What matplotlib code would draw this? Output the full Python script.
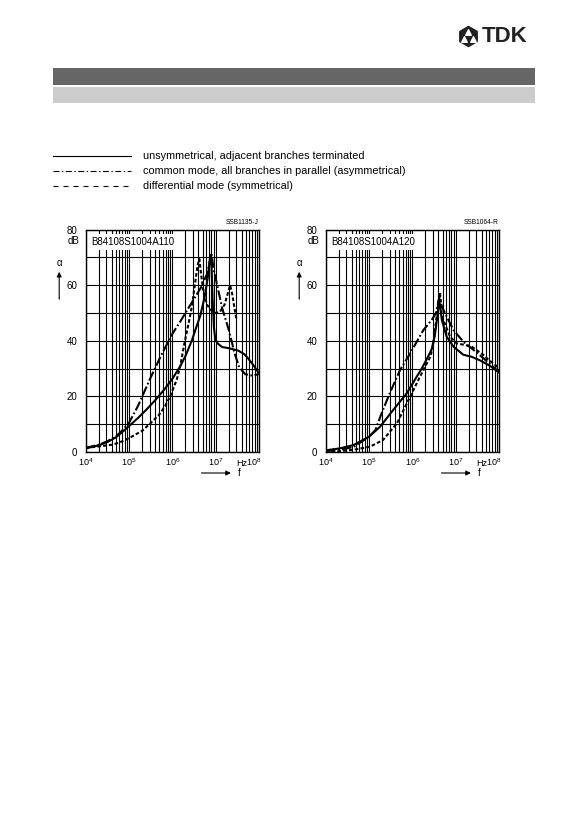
import matplotlib
matplotlib.use("Agg")
import matplotlib.pyplot as plt
import matplotlib.transforms as mtransforms
from matplotlib.patches import Rectangle
from matplotlib.ticker import LogLocator, NullFormatter

plt.rcParams["font.family"] = ["Liberation Sans", "DejaVu Sans"]
plt.rcParams["lines.scale_dashes"] = False

# ---- data (f in Hz, attenuation in dB) ----
X_TICKS = [1e4, 1e5, 1e6, 1e7, 1e8]
X_TICK_LABELS = [r"$\mathregular{10^{4}}$", r"$\mathregular{10^{5}}$",
                 r"$\mathregular{10^{6}}$", r"$\mathregular{10^{7}}$",
                 r"$\mathregular{10^{8}}$"]
Y_TICKS = [0, 20, 40, 60, 80]
Y_MINOR = [10, 30, 50, 70]

LEGEND_LABELS = ["unsymmetrical, adjacent branches terminated",
                 "common mode, all branches in parallel (asymmetrical)",
                 "differential mode (symmetrical)"]

# left chart: B84108S1004A110
L_UNSYM_F = [1e4, 2e4, 3.2e4, 5e4, 7e4, 1e5, 1.6e5, 2.5e5, 4e5, 6.3e5, 1e6,
             1.5e6, 2e6, 2.8e6, 3.5e6, 4.4e6, 5.6e6, 6.6e6, 7.4e6, 7.8e6,
             8.1e6, 8.5e6, 9.1e6, 9.8e6, 1.12e7, 1.4e7, 2.1e7, 3.3e7, 4.5e7,
             5.2e7, 7.4e7, 1e8]
L_UNSYM_DB = [1.3, 2.4, 3.6, 5.3, 7.2, 9.3, 12.2, 15.2, 18.6, 22.2, 26.3,
              30.7, 34.5, 40, 44.5, 49, 56, 63, 70, 71,
              65, 55, 45, 40.5, 39, 37.8, 37.3, 36.5, 35.3,
              34.3, 31.3, 28.3]

L_COMMON_F = [1e4, 2e4, 3.2e4, 5e4, 7e4, 1e5, 1.6e5, 3.2e5, 5.6e5, 1e6,
              1.6e6, 3e6, 4.5e6, 6.3e6, 7.2e6, 8e6, 8.9e6, 1.12e7, 1.4e7,
              2e7, 2.8e7, 3.5e7, 4.8e7, 7e7, 1e8]
L_COMMON_DB = [1.5, 2.6, 3.9, 5.6, 7.8, 10.5, 16.5, 27, 35, 42.5,
               47.5, 54.5, 59, 64, 68, 71.5, 66, 59, 52,
               44, 35, 30.5, 28, 27.5, 28]

L_DIFF_F = [1e4, 2e4, 4e4, 6e4, 1e5, 2e5, 3.2e5, 5e5, 6.8e5, 8.9e5, 1.26e6,
            1.5e6, 1.95e6, 2.35e6, 2.8e6, 3.3e6, 3.8e6, 4.2e6, 4.6e6, 5.2e6,
            6.3e6, 7.9e6, 1e7, 1.26e7, 1.6e7, 1.9e7, 2.15e7, 2.4e7, 2.7e7,
            3e7]
L_DIFF_DB = [1.5, 2.0, 2.6, 3.4, 5.0, 7.6, 10.5, 13.5, 16.5, 20, 26,
             30.5, 40, 46, 52, 60, 67, 69.5, 64, 58,
             53, 51, 50, 50.5, 53, 57, 60, 57, 52,
             48]

# right chart: B84108S1004A120
R_UNSYM_F = [1e4, 2.1e4, 4.4e4, 1e5, 1.8e5, 3.6e5, 7.4e5, 1.26e6, 1.6e6,
             2.1e6, 2.8e6, 3.3e6, 3.8e6, 4.15e6, 4.8e6, 6.2e6, 8.9e6,
             1.5e7, 2.3e7, 3.6e7, 6.2e7, 1e8]
R_UNSYM_DB = [0.6, 1.3, 2.5, 5.5, 9.1, 15.1, 21.1, 27.1, 29.7,
              33.1, 37, 42, 49, 55, 47.5, 41.5, 37.9,
              35, 34.3, 33, 31, 28.6]

R_COMMON_F = [1e4, 2.1e4, 4.4e4, 1e5, 1.4e5, 1.95e5, 3e5, 5.2e5, 8.9e5,
              1.8e6, 2.8e6, 3.5e6, 4.25e6, 4.8e6, 6.2e6, 8.9e6, 1.5e7,
              2.6e7, 4.4e7, 8.9e7, 1e8]
R_COMMON_DB = [0.3, 0.8, 1.8, 5.5, 7.9, 13.9, 21.1, 29.5, 35.5,
               43.9, 47.5, 50, 56, 52.3, 48.7, 43.9, 39.7,
               36.7, 33.7, 29.5, 29]

R_DIFF_F = [1e4, 2.1e4, 4.4e4, 1.05e5, 2.1e5, 4.4e5, 8.9e5, 1.5e6, 2.6e6,
            3e6, 3.55e6, 4e6, 4.35e6, 4.8e6, 5.2e6, 7.4e6, 1.05e7, 1.65e7,
            2.35e7, 4.4e7, 5.8e7, 7.4e7, 1e8]
R_DIFF_DB = [0, 0.3, 0.8, 1.9, 4.3, 10.3, 19.9, 27.1, 34.3,
             38, 47.5, 54, 57.5, 49, 47.5, 41.5, 39.1, 38.5,
             37.9, 34.9, 33.1, 31.9, 30.1]

SOLID = dict(color="black", lw=1.5, ls="-")
DASHDOT = dict(color="black", lw=1.5, dashes=(7, 1.8, 1.2, 1.8))
DASHED = dict(color="black", lw=1.5, dashes=(2.6, 1.6))

W, H = 583, 826
fig = plt.figure(figsize=(W / 100, H / 100), dpi=100)

# page overlay in pixel units for the header / legend / axis decorations
page = fig.add_axes([0, 0, 1, 1])
page.set_xlim(0, W)
page.set_ylim(H, 0)
page.axis("off")

page.add_patch(Rectangle((52.7, 68), 482.3, 17, color="#666666", lw=0))
page.add_patch(Rectangle((52.7, 86.5), 482.3, 16, color="#cccccc", lw=0))

# TDK logo (approximation)
page.scatter([468], [35.5], s=210, marker="h", facecolor="#222222",
             edgecolor="#222222")
page.scatter([468, 463.5, 472.5], [31.5, 38.5, 38.5], s=16, marker="^",
             color="white")
page.text(482, 36, "TDK", fontsize=16, fontweight="bold", color="#222222",
          va="center", ha="left")

# legend
legend_styles = [dict(ls="-"), dict(dashes=(4.3, 1.8, 1, 1.8)),
                 dict(dashes=(3.6, 3.6))]
for i, (label, st) in enumerate(zip(LEGEND_LABELS, legend_styles)):
    y = 156 + 15 * i
    page.plot([53, 131], [y, y], color="black", lw=0.8, **st)
    page.text(142.7, y, label, fontsize=7.8, va="center", ha="left")


def draw_chart(x0, code, part, unsym, common, diff):
    rect = [x0 / W, 1 - 452 / H, 173.3 / W, 222.3 / H]
    ax = fig.add_axes(rect)
    ax.set_xscale("log")
    ax.set_xlim(X_TICKS[0], X_TICKS[-1])
    ax.set_ylim(Y_TICKS[0], Y_TICKS[-1])
    ax.set_xticks(X_TICKS)
    ax.set_xticklabels(X_TICK_LABELS)
    ax.xaxis.set_minor_locator(LogLocator(base=10, subs=range(2, 10)))
    ax.xaxis.set_minor_formatter(NullFormatter())
    ax.set_yticks(Y_TICKS)
    ax.set_yticks(Y_MINOR, minor=True)
    ax.tick_params(which="both", length=0)
    ax.tick_params(axis="x", pad=3, labelsize=6.5)
    ax.tick_params(axis="y", pad=6, labelsize=7)
    ax.grid(which="both", color="black", lw=0.8)
    ax.set_axisbelow(True)
    for sp in ax.spines.values():
        sp.set_linewidth(1.0)
    # last frequency label ends at the axis end, "Hz" sits left of it
    last = ax.get_xticklabels()[-1]
    last.set_horizontalalignment("right")
    last.set_transform(last.get_transform() + mtransforms.ScaledTranslation(
        2 / 100, 0, fig.dpi_scale_trans))

    ax.plot(unsym[0], unsym[1], **SOLID)
    ax.plot(common[0], common[1], **DASHDOT)
    ax.plot(diff[0], diff[1], **DASHED)

    ax.text(0.03, 0.965, part, transform=ax.transAxes, fontsize=7,
            va="top", ha="left", zorder=5,
            bbox=dict(facecolor="white", edgecolor="none", pad=2.2))

    # decorations outside the axes
    right = x0 + 173.3
    page.text(right, 222, code, fontsize=4.8, ha="right", va="center")
    page.text(x0 - 6, 241.5, "dB", fontsize=7, ha="right", va="center")
    page.text(x0 - 26.5, 263, "α", fontsize=7, ha="center", va="center")
    page.annotate("", xy=(x0 - 26.5, 269), xytext=(x0 - 26.5, 302),
                  arrowprops=dict(arrowstyle="-|>", color="black", lw=0.8,
                                  mutation_scale=7))
    page.text(x0 + 156, 463.5, "Hz", fontsize=6.5, ha="center", va="center")
    page.annotate("", xy=(x0 + 148, 473), xytext=(x0 + 113, 473),
                  arrowprops=dict(arrowstyle="-|>", color="black", lw=0.8,
                                  mutation_scale=7))
    page.text(x0 + 154, 473.5, "f", fontsize=7, ha="center", va="center")
    return ax


draw_chart(85.7, "SSB1135-J", "B84108S1004A110",
           (L_UNSYM_F, L_UNSYM_DB), (L_COMMON_F, L_COMMON_DB),
           (L_DIFF_F, L_DIFF_DB))
draw_chart(325.7, "SSB1064-R", "B84108S1004A120",
           (R_UNSYM_F, R_UNSYM_DB), (R_COMMON_F, R_COMMON_DB),
           (R_DIFF_F, R_DIFF_DB))

fig.savefig("out.png", dpi=100)
